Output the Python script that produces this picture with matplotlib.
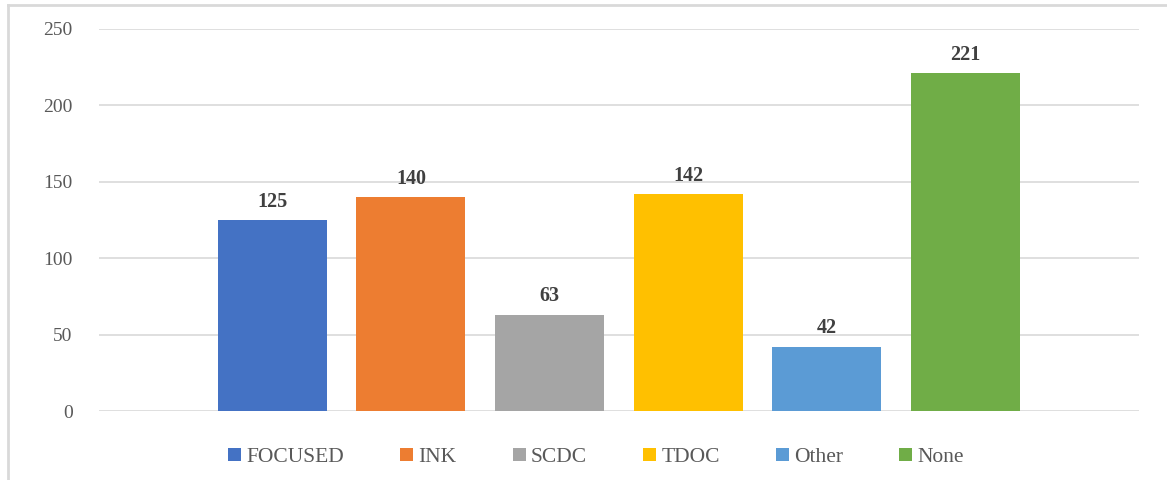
import matplotlib.pyplot as plt
from matplotlib.lines import Line2D

categories = ["FOCUSED", "INK", "SCDC", "TDOC", "Other", "None"]
values = [125, 140, 63, 142, 42, 221]
colors = ["#4472C4", "#ED7D31", "#A5A5A5", "#FFC000", "#5B9BD5", "#70AD47"]
yticks = [0, 50, 100, 150, 200, 250]

plt.rcParams['font.family'] = ['Liberation Serif', 'DejaVu Serif']

fig = plt.figure(figsize=(11.67, 4.8), dpi=100)
ax = fig.add_axes([0.0848, 0.14375, 0.8912, 0.7959])

for i, (cat, val, col) in enumerate(zip(categories, values, colors)):
    ax.bar(i, val, width=0.786, color=col, label=cat, zorder=3)
    ax.annotate(str(val), (i, val), xytext=(0, 6), textcoords="offset points",
                ha="center", va="bottom", fontsize=14.5, fontweight="bold", color="#404040")

ax.set_xlim(-1.25, 6.25)
ax.set_ylim(0, 250)
ax.set_yticks(yticks)
ax.set_xticks([])
ax.yaxis.grid(True, color="#d9d9d9", linewidth=1.2, zorder=0)
for s in ax.spines.values():
    s.set_visible(False)
ax.tick_params(axis="y", length=0, pad=19, labelsize=14, labelcolor="#595959")

ax.legend(loc="upper center", bbox_to_anchor=(0.478, -0.045), ncol=6, frameon=False,
          fontsize=15.5, handlelength=0.6, handleheight=0.6, handletextpad=0.25,
          columnspacing=2.6, labelcolor="#595959")

# outer border (left and top visible)
fig.add_artist(Line2D([8/1167, 8/1167], [0, 1 - 5/480], color="#d9d9d9", linewidth=2, transform=fig.transFigure))
fig.add_artist(Line2D([8/1167, 1], [1 - 5/480, 1 - 5/480], color="#d9d9d9", linewidth=2, transform=fig.transFigure))

fig.savefig("out.png", dpi=100)
